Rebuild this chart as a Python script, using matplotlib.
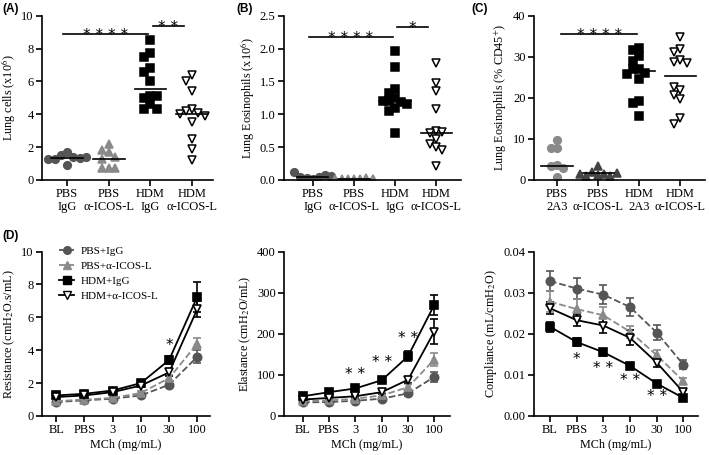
import numpy as np
import matplotlib
matplotlib.use('Agg')
import matplotlib.pyplot as plt
from matplotlib.lines import Line2D

plt.rcParams['font.family'] = 'Liberation Serif'
plt.rcParams['mathtext.fontset'] = 'stix'
plt.rcParams['axes.linewidth'] = 1.2

# ------------------------------
# Scatter data (A-C)
# ------------------------------
a_pbs_igg = [1.7, 1.5, 1.4, 1.3, 1.35, 1.25, 0.9, 1.4]
a_pbs_icos = [2.2, 1.8, 1.7, 1.4, 1.3, 0.75, 0.7, 0.75]
a_hdm_igg = [8.5, 7.7, 7.5, 6.8, 6.6, 6.0, 5.1, 5.0, 5.1, 4.6, 4.3, 4.3]
a_hdm_icos = [6.4, 6.0, 5.4, 4.3, 4.2, 4.1, 4.0, 3.9, 3.5, 2.5, 1.9, 1.2]
a_medians = [1.35, 1.3, 5.55, 4.0]

b_pbs_igg = [0.02, 0.03, 0.04, 0.05, 0.07, 0.12, 0.06, 0.03]
b_pbs_icos = [0.01, 0.01, 0.02, 0.02, 0.03, 0.01, 0.02, 0.01]
b_hdm_igg = [1.96, 1.72, 1.38, 1.33, 1.25, 1.2, 1.18, 1.2, 1.1, 1.15, 1.05, 0.72]
b_hdm_icos = [1.78, 1.48, 1.35, 1.08, 0.75, 0.72, 0.73, 0.62, 0.55, 0.5, 0.45, 0.22]
b_medians = [0.04, 0.01, 1.2, 0.72]

c_pbs_2a3 = [9.8, 7.8, 7.7, 3.6, 3.3, 3.0, 0.8]
c_pbs_icos = [3.3, 2.0, 1.5, 1.2, 1.0, 1.0, 1.5, 1.8]
c_hdm_2a3 = [32.2, 31.6, 30.2, 29.0, 27.0, 27.0, 26.0, 25.7, 24.7, 19.2, 18.8, 15.7]
c_hdm_icos = [34.7, 31.8, 31.2, 29.3, 28.8, 28.6, 22.0, 22.6, 20.6, 19.6, 15.2, 13.7]
c_medians = [3.5, 1.7, 26.5, 25.3]

ab_labels = ['PBS\nIgG', 'PBS\n\u03b1-ICOS-L', 'HDM\nIgG', 'HDM\n\u03b1-ICOS-L']
c_labels = ['PBS\n2A3', 'PBS\n\u03b1-ICOS-L', 'HDM\n2A3', 'HDM\n\u03b1-ICOS-L']

# ------------------------------
# Lung function data (D)
# ------------------------------
mch = ['BL', 'PBS', '3', '10', '30', '100']
groups = ['PBS+IgG', 'PBS+\u03b1-ICOS-L', 'HDM+IgG', 'HDM+\u03b1-ICOS-L']

res_mean = [[0.85, 0.95, 1.05, 1.25, 1.9, 3.6],
            [0.9, 1.0, 1.1, 1.4, 2.3, 4.4],
            [1.25, 1.35, 1.55, 2.0, 3.4, 7.25],
            [1.15, 1.25, 1.45, 1.85, 2.65, 6.5]]
res_err = [[0.05, 0.05, 0.05, 0.08, 0.15, 0.4],
           [0.05, 0.05, 0.06, 0.1, 0.2, 0.35],
           [0.1, 0.1, 0.1, 0.12, 0.25, 0.9],
           [0.08, 0.08, 0.08, 0.1, 0.2, 0.5]]

ela_mean = [[33, 34, 37, 42, 55, 95],
            [36, 38, 42, 50, 70, 137],
            [48, 58, 67, 87, 145, 270],
            [40, 44, 48, 58, 88, 205]]
ela_err = [[3, 3, 3, 4, 6, 12],
           [3, 3, 4, 5, 8, 15],
           [4, 4, 4, 5, 12, 25],
           [4, 4, 4, 5, 8, 30]]

com_mean = [[0.0328, 0.031, 0.0295, 0.0265, 0.0203, 0.0125],
            [0.0278, 0.026, 0.0245, 0.0205, 0.0148, 0.0085],
            [0.0217, 0.018, 0.0155, 0.0122, 0.0079, 0.0044],
            [0.0262, 0.0233, 0.022, 0.019, 0.013, 0.0058]]
com_err = [[0.0025, 0.0025, 0.0023, 0.0022, 0.0018, 0.0011],
           [0.0025, 0.0025, 0.002, 0.0015, 0.0012, 0.0008],
           [0.0012, 0.001, 0.0008, 0.0007, 0.0005, 0.0004],
           [0.0015, 0.0015, 0.0018, 0.0018, 0.0012, 0.0006]]

# ------------------------------
# Styles
# ------------------------------
DARK = '#555555'
GREY = '#8a8a8a'
TICK_FS = 9
LABEL_FS = 8.7
scatter_styles = [dict(marker='o', color=DARK, mec=DARK),
                  dict(marker='^', color=GREY, mec=GREY),
                  dict(marker='s', color='black', mec='black'),
                  dict(marker='v', color='white', mec='black')]
line_styles = [dict(marker='o', color=DARK, mfc=DARK, ls='--'),
               dict(marker='^', color=GREY, mfc=GREY, ls='--'),
               dict(marker='s', color='black', mfc='black', ls='-'),
               dict(marker='v', color='black', mfc='white', ls='-')]


def swarm(vals, center, ysep, dx=0.15):
    placed = []
    xs = []
    for v in vals:
        for k in [0, -1, 1, -2, 2, -3, 3]:
            x = center + k * dx
            if all(abs(x - px) > dx * 0.9 or abs(v - pv) > ysep for px, pv in placed):
                break
        placed.append((x, v))
        xs.append(x)
    return xs


def style_axes(ax):
    ax.spines['top'].set_visible(False)
    ax.spines['right'].set_visible(False)
    ax.tick_params(direction='out', length=4, width=1.2, labelsize=TICK_FS, pad=2)


def scatter_panel(ax, data, medians, ymax, labels, ylabel, c_colors=None):
    for i, vals in enumerate(data):
        st = dict(scatter_styles[i])
        if c_colors is not None and i < 2:
            st['color'] = c_colors[i]
            st['mec'] = c_colors[i]
        xs = swarm(vals, i, ysep=ymax * 0.045)
        ax.plot(xs, vals, ls='none', marker=st['marker'], ms=5.5,
                mfc=st['color'], mec=st['mec'], mew=1.1)
        ax.plot([i - 0.38, i + 0.38], [medians[i], medians[i]], color='black', lw=1.2)
    ax.set_ylim(0, ymax)
    ax.set_xticks(range(4))
    ax.set_xticklabels(labels, fontsize=TICK_FS, linespacing=1.05)
    ax.set_ylabel(ylabel, fontsize=LABEL_FS, labelpad=3)
    style_axes(ax)


def sig(ax, x0, x1, y, txt, dy):
    ax.plot([x0, x1], [y, y], color='black', lw=1.2)
    ax.text((x0 + x1) / 2, y - dy, txt, ha='center', va='bottom', fontsize=11, family='DejaVu Sans')


fig = plt.figure(figsize=(7.09, 4.55), dpi=100)
W, H = 709, 455


def add_ax(left, right, top, bottom):
    return fig.add_axes([left / W, 1 - bottom / H, (right - left) / W, (bottom - top) / H])


axA = add_ax(42, 213, 15.7, 180)
axB = add_ax(284, 461, 15.7, 180)
axC = add_ax(534, 705, 15.7, 180)
axD1 = add_ax(42, 210, 251.5, 416)
axD2 = add_ax(284, 450, 251.5, 416)
axD3 = add_ax(534, 698, 251.5, 416)

scatter_panel(axA, [a_pbs_igg, a_pbs_icos, a_hdm_igg, a_hdm_icos], a_medians, 10,
              ab_labels, 'Lung cells (x10$^{6}$)')
axA.set_xlim(-0.6, 3.5)
axA.set_yticks([0, 2, 4, 6, 8, 10])
sig(axA, -0.1, 1.95, 8.9, '* * * *', 0.55)
sig(axA, 2.05, 2.8, 9.35, '* *', 0.55)

scatter_panel(axB, [b_pbs_igg, b_pbs_icos, b_hdm_igg, b_hdm_icos], b_medians, 2.5,
              ab_labels, 'Lung Eosinophils (x10$^{6}$)')
axB.set_xlim(-0.7, 3.6)
axB.set_yticks([0, 0.5, 1.0, 1.5, 2.0, 2.5])
axB.set_yticklabels(['0.0', '0.5', '1.0', '1.5', '2.0', '2.5'])
sig(axB, -0.1, 1.95, 2.18, '* * * *', 0.14)
sig(axB, 2.05, 2.8, 2.33, '*', 0.14)

scatter_panel(axC, [c_pbs_2a3, c_pbs_icos, c_hdm_2a3, c_hdm_icos], c_medians, 40,
              c_labels, 'Lung Eosinophils (% CD45$^{+}$)', c_colors=[GREY, '#444444'])
axC.set_xlim(-0.56, 3.6)
axC.set_yticks([0, 10, 20, 30, 40])
sig(axC, 0.1, 1.95, 35.5, '* * * *', 2.2)


def line_panel(ax, means, errs, ymax, yticks, ylabel, fmt=None):
    x = np.arange(len(mch))
    for i in range(4):
        st = line_styles[i]
        ax.errorbar(x, means[i], yerr=errs[i], color=st['color'], ls=st['ls'], lw=1.3,
                    marker=st['marker'], ms=6, mfc=st['mfc'], mec=st['color'], mew=1.2,
                    capsize=3, elinewidth=1.2, capthick=1.2, label=groups[i])
    ax.set_ylim(0, ymax)
    ax.set_yticks(yticks)
    if fmt:
        ax.set_yticklabels([fmt.format(t) for t in yticks])
    ax.set_xticks(x)
    ax.set_xticklabels(mch, fontsize=TICK_FS)
    ax.set_xlabel('MCh (mg/mL)', fontsize=LABEL_FS, labelpad=2)
    ax.set_ylabel(ylabel, fontsize=LABEL_FS, labelpad=3)
    style_axes(ax)


line_panel(axD1, res_mean, res_err, 10, [0, 2, 4, 6, 8, 10], 'Resistance (cmH$_2$O.s/mL)')
axD1.set_xlim(-0.5, 5.45)
axD1.text(4, 3.85, '*', ha='center', va='bottom', fontsize=11, family='DejaVu Sans')
handles = [Line2D([], [], color=s['color'], ls=s['ls'], marker=s['marker'], mfc=s['mfc'],
                  mec=s['color'], ms=5.5, lw=1.3) for s in line_styles]
axD1.legend(handles, groups, loc='upper left', bbox_to_anchor=(0.1, 1.03), frameon=False,
            fontsize=8, handlelength=1.4, handletextpad=0.6, labelspacing=0.45,
            borderaxespad=0, borderpad=0)

line_panel(axD2, ela_mean, ela_err, 400, [0, 100, 200, 300, 400], 'Elastance (cmH$_2$O/mL)')
axD2.set_xlim(-0.72, 5.6)
for xi, yi in [(2, 82), (3, 112), (4, 170)]:
    axD2.text(xi, yi, '* *', ha='center', va='bottom', fontsize=11, family='DejaVu Sans')

line_panel(axD3, com_mean, com_err, 0.04, [0, 0.01, 0.02, 0.03, 0.04], 'Compliance (mL/cmH$_2$O)',
           fmt='{:.2f}')
axD3.set_xlim(-0.6, 5.55)
for xi, yi, t in [(1, 0.0118, '*'), (2, 0.0098, '* *'), (3, 0.0068, '* *'), (4, 0.0028, '* *')]:
    axD3.text(xi, yi, t, ha='center', va='bottom', fontsize=11, family='DejaVu Sans')

for lab, px, py in [('(A)', 2, 3), ('(B)', 236, 3), ('(C)', 471, 3), ('(D)', 2, 230)]:
    fig.text(px / W, 1 - py / H, lab, ha='left', va='top', fontsize=8.5, fontweight='bold',
             family='Liberation Sans')

fig.savefig('out.png', dpi=100)
